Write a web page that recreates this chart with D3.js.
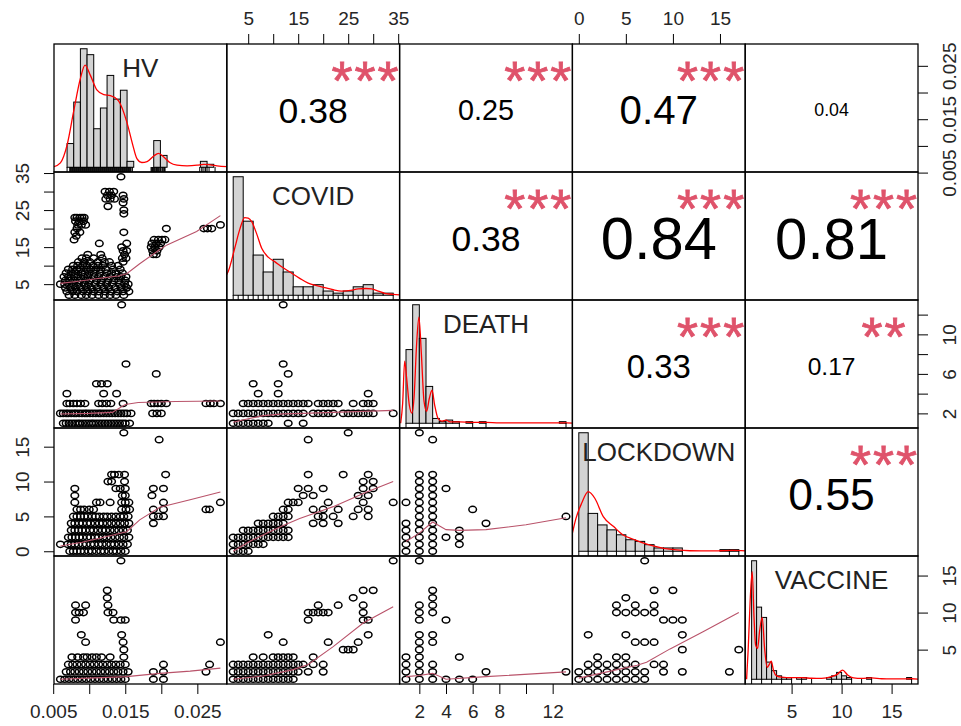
<!DOCTYPE html>
<html>
<head>
<meta charset="utf-8">
<script src="https://cdn.jsdelivr.net/npm/d3@7/dist/d3.min.js"></script>
<style>
  body { margin: 0; background: #fff; }
  svg { font-family: "Liberation Sans", Arial, sans-serif; }
</style>
</head>
<body>
<svg id="chart"></svg>
<script>
// ---- variables ----
const varNames = ["HV", "COVID", "DEATH", "LOCKDOWN", "VACCINE"];
const varRanges = [[0.0060, 0.0282], [2, 34], [1, 13], [0, 17], [1, 17]];

// ---- axis ticks ----
const hvTicks = [0.005, 0.010, 0.015, 0.020, 0.025];
const hvTickLabels = ["0.005", "", "0.015", "", "0.025"];
const covidTicks = [5, 10, 15, 20, 25, 30, 35];
const covidTickLabels = ["5", "", "15", "", "25", "", "35"];
const deathTicks = [2, 4, 6, 8, 10, 12];
const deathTickLabelsX = ["2", "4", "6", "8", "", "12"];
const deathTickLabelsY = ["2", "", "6", "", "10", ""];
const lockdownTicks = [0, 5, 10, 15];
const lockdownTickLabels = ["0", "5", "10", "15"];
const vaccineTicks = [5, 10, 15];
const vaccineTickLabels = ["5", "10", "15"];

// ---- correlations (upper panels) ----
const corrPairs = [[0, 1], [0, 2], [0, 3], [0, 4], [1, 2], [1, 3], [1, 4], [2, 3], [2, 4], [3, 4]];
const corrR = [0.38, 0.25, 0.47, 0.04, 0.38, 0.84, 0.81, 0.33, 0.17, 0.55];
const corrStars = ["***", "***", "***", "", "***", "***", "***", "***", "**", "***"];

// ---- histograms (diagonal), counts per bin ----
const hvBreaks = [0.005, 0.006, 0.007, 0.008, 0.009, 0.010, 0.011, 0.012, 0.013, 0.014, 0.015, 0.016,
  0.017, 0.018, 0.019, 0.020, 0.021, 0.022, 0.023, 0.024, 0.025, 0.026, 0.027, 0.028, 0.029];
const hvCounts = [0, 8, 22, 40, 38, 13, 20, 31, 23, 26, 2, 0, 0, 0, 9, 4, 0, 0, 0, 0, 0, 2, 1, 0];
const covidBreaks = [2, 4, 6, 8, 10, 12, 14, 16, 18, 20, 22, 24, 26, 28, 30, 32, 34];
const covidCounts = [56, 35, 19, 11, 17, 11, 4, 4, 5, 2, 1, 2, 4, 5, 1, 1];
const deathBreaks = [1, 1.5, 2, 2.5, 3, 3.5, 4, 4.5, 5, 5.5, 6, 6.5, 7, 7.5, 8, 8.5, 9, 9.5, 10,
  10.5, 11, 11.5, 12, 12.5, 13];
const deathCounts = [46, 74, 53, 23, 3, 1, 2, 1, 0, 1, 0, 1, 0, 0, 0, 0, 0, 0, 0, 0, 0, 0, 0, 1];
const lockdownBreaks = [0, 1, 2, 3, 4, 5, 6, 7, 8, 9, 10, 11, 12, 13, 14, 15, 16, 17];
const lockdownCounts = [72, 23, 16, 13, 10, 7, 6, 4, 2, 2, 2, 0, 0, 0, 0, 1, 1];
const vaccineBreaks = [1, 1.5, 2, 2.5, 3, 3.5, 4, 4.5, 5, 5.5, 6, 6.5, 7, 7.5, 8, 8.5, 9, 9.5, 10,
  10.5, 11, 11.5, 12, 12.5, 13, 13.5, 14, 14.5, 15, 15.5, 16, 16.5, 17];
const vaccineCounts = [69, 42, 36, 10, 5, 2, 1, 1, 0, 1, 1, 0, 0, 0, 0, 1, 2, 4, 2, 1, 0, 0, 0, 1,
  0, 0, 0, 0, 0, 0, 0, 1];

// density curves (in count-per-bin units)
const hvDensity = [[0.0040, 0.2], [0.0050, 1.5], [0.0060, 7.5], [0.0070, 19], [0.0080, 30], [0.0087, 34.5],
  [0.0095, 31], [0.0105, 26], [0.0115, 24.5], [0.0125, 24.2], [0.0137, 22.5], [0.0150, 15], [0.0158, 8],
  [0.0165, 2.8], [0.0172, 1.6], [0.0180, 1.9], [0.0190, 3.8], [0.0197, 4.7], [0.0205, 3.5], [0.0214, 1.6],
  [0.0225, 0.7], [0.0240, 0.5], [0.0255, 0.7], [0.0265, 1.0], [0.0275, 0.8], [0.0285, 0.5], [0.0300, 0.2]];
const covidDensity = [[0.5, 9], [1.0, 11.2], [2.3, 22.2], [3.3, 31], [4.3, 36.7], [5.0, 36.5], [5.7, 34.8],
  [6.7, 29], [7.7, 22.2], [9.0, 18], [10.3, 15.9], [12, 13], [13.7, 10.4], [15.3, 8], [17, 5.7], [18.7, 4.5],
  [20.3, 3.6], [22, 2.6], [23.7, 2.0], [25.5, 2.3], [27, 3.0], [28.5, 3.2], [29.7, 3.0], [31, 2],
  [32.3, 0.9], [34, 0.4], [35.3, 0.2]];
const deathDensity = [[0.6, 0], [0.75, 12.5], [0.9, 38.8], [1.05, 28.1], [1.25, 11.3], [1.45, 6.3], [1.6, 15.6],
  [1.8, 50], [1.97, 66.3], [2.15, 43.8], [2.35, 13.8], [2.55, 7.5], [2.75, 15.6], [2.95, 20.6], [3.15, 11.3],
  [3.4, 3.1], [3.7, 1.3], [4.0, 1.9], [4.3, 0.9], [5, 0.9], [6, 0.6], [7, 0.6], [8, 0.2], [12, 0.2],
  [13, 0.3], [13.5, 0.1]];
const lockdownDensity = [[-0.7, 10.5], [-0.3, 20], [0.3, 29.1], [1.0, 36.2], [1.7, 32.2], [2.6, 21], [3.7, 15],
  [4.7, 9.9], [5.8, 7.3], [6.9, 4.9], [7.9, 3.2], [9.0, 1.8], [10.4, 0.8], [11.8, 0.3], [13, 0.2], [15, 0.3],
  [16.3, 0.5], [17.7, 0.2]];
const vaccineDensity = [[0.5, 0], [0.66, 17.5], [0.85, 45], [1.06, 62.6], [1.25, 35], [1.4, 20], [1.6, 18],
  [1.8, 28], [2.06, 36], [2.3, 18], [2.55, 7], [2.8, 9], [2.96, 10.5], [3.2, 5], [3.5, 2], [4, 1.2], [5, 0.9],
  [6, 0.9], [7, 0.6], [8, 0.5], [9, 1.5], [9.6, 3], [10.1, 5.3], [10.6, 2.5], [11.2, 0.8], [12, 0.5],
  [13, 0.8], [14, 0.3], [15, 0.2], [16, 0.2], [17, 0.3], [17.7, 0.1]];

// ---- scatter panels (lower), grouped as [y value, [x values]] ----
const hvCovid = [
  [34, [0.0144]], [30, [0.0122, 0.0128, 0.0134]], [29, [0.0125, 0.0131, 0.0147]],
  [28, [0.0123, 0.0129, 0.0135, 0.0148]], [27, [0.0147]], [26, [0.0126]], [25, [0.0148]], [24, [0.0148]],
  [23, [0.0080, 0.0083, 0.0087, 0.0090, 0.0093]], [22, [0.0081, 0.0086, 0.0092]],
  [21, [0.0084, 0.0089, 0.0095, 0.0282]], [20, [0.0083, 0.0207, 0.0259, 0.0264, 0.0270]],
  [19, [0.0080, 0.0087, 0.0148]], [18, [0.0082]], [17, [0.0079, 0.0190, 0.0196, 0.0201, 0.0205]],
  [16, [0.0114, 0.0152, 0.0187, 0.0193, 0.0199]], [15, [0.0145, 0.0186, 0.0191, 0.0197]],
  [14, [0.0147, 0.0152, 0.0188, 0.0194]], [13, [0.0098, 0.0116, 0.0149, 0.0189, 0.0193]],
  [12, [0.0090, 0.0096, 0.0106, 0.0118, 0.0146, 0.0151]],
  [11, [0.0085, 0.0093, 0.0101, 0.0112, 0.0121, 0.0128, 0.0147]],
  [10, [0.0078, 0.0084, 0.0091, 0.0097, 0.0105, 0.0112, 0.0119, 0.0131, 0.0140]],
  [9, [0.0071, 0.0077, 0.0083, 0.0088, 0.0096, 0.0102, 0.0109, 0.0116, 0.0123, 0.0133, 0.0143]],
  [8, [0.0068, 0.0075, 0.0081, 0.0089, 0.0094, 0.0100, 0.0107, 0.0115, 0.0124, 0.0131, 0.0137, 0.0146]],
  [7, [0.0065, 0.0071, 0.0079, 0.0084, 0.0092, 0.0098, 0.0106, 0.0113, 0.0121, 0.0129, 0.0138, 0.0144, 0.0151]],
  [6, [0.0067, 0.0073, 0.0080, 0.0087, 0.0095, 0.0101, 0.0110, 0.0117, 0.0126, 0.0134, 0.0141, 0.0150]],
  [5, [0.0060, 0.0066, 0.0072, 0.0078, 0.0085, 0.0093, 0.0099, 0.0108, 0.0116, 0.0124, 0.0132, 0.0142, 0.0149, 0.0154]],
  [4, [0.0067, 0.0074, 0.0081, 0.0088, 0.0096, 0.0103, 0.0111, 0.0120, 0.0127, 0.0136, 0.0144, 0.0152]],
  [3, [0.0069, 0.0077, 0.0083, 0.0091, 0.0098, 0.0106, 0.0113, 0.0122, 0.0130, 0.0139, 0.0147, 0.0155]],
  [2, [0.0072, 0.0080, 0.0089, 0.0096, 0.0104, 0.0113, 0.0121, 0.0129, 0.0137, 0.0148]]
];
const hvDeath = [
  [13, [0.0145]], [7, [0.0151]], [6, [0.0193]], [5, [0.0110, 0.0117, 0.0125]], [4, [0.0069, 0.0120, 0.0138]],
  [3, [0.0069, 0.0073, 0.0078, 0.0083, 0.0088, 0.0094, 0.0113, 0.0118, 0.0124, 0.0130, 0.0147, 0.0186, 0.0190,
    0.0195, 0.0200, 0.0207, 0.0262, 0.0268, 0.0273, 0.0282]],
  [2, [0.0060, 0.0064, 0.0068, 0.0071, 0.0075, 0.0079, 0.0082, 0.0086, 0.0090, 0.0094, 0.0097, 0.0101, 0.0105,
    0.0109, 0.0113, 0.0116, 0.0120, 0.0124, 0.0128, 0.0132, 0.0136, 0.0140, 0.0144, 0.0148, 0.0152, 0.0158,
    0.0188, 0.0194, 0.0200]],
  [1, [0.0064, 0.0068, 0.0072, 0.0076, 0.0080, 0.0084, 0.0087, 0.0091, 0.0095, 0.0099, 0.0103, 0.0106, 0.0110,
    0.0114, 0.0118, 0.0122, 0.0126, 0.0130, 0.0134, 0.0138, 0.0142, 0.0146, 0.0150, 0.0156]]
];
const covidDeath = [
  [13, [12]], [7, [12]], [6, [13]], [5, [6, 11]], [4, [7, 11, 29]],
  [3, [4, 5, 6, 7, 8, 9, 10, 11, 12, 13, 14, 15, 16, 17, 19, 20, 21, 22, 23, 26, 28, 29, 30]],
  [2, [2, 3, 4, 5, 6, 7, 8, 9, 10, 11, 12, 13, 14, 15, 16, 18, 19, 20, 21, 22, 24, 25, 26, 27, 28, 29, 30, 34]],
  [1, [2, 3, 4, 5, 6, 7, 8, 9, 13, 16]]
];
const hvLockdown = [
  [17, [0.0148]], [16, [0.0197]], [11, [0.0131, 0.0135, 0.0141, 0.0149, 0.0206]], [10, [0.0126, 0.0131, 0.0149]],
  [9, [0.0080, 0.0137, 0.0143, 0.0150, 0.0189, 0.0203]], [8, [0.0080, 0.0146, 0.0150, 0.0187]],
  [7, [0.0080, 0.0110, 0.0115, 0.0129, 0.0145, 0.0150, 0.0155, 0.0203, 0.0282]],
  [6, [0.0083, 0.0088, 0.0093, 0.0100, 0.0106, 0.0145, 0.0151, 0.0156, 0.0189, 0.0203, 0.0262, 0.0267]],
  [5, [0.0078, 0.0083, 0.0088, 0.0093, 0.0098, 0.0104, 0.0109, 0.0114, 0.0120, 0.0125, 0.0131, 0.0137, 0.0143,
    0.0148, 0.0154, 0.0189, 0.0196, 0.0203]],
  [4, [0.0075, 0.0080, 0.0086, 0.0091, 0.0097, 0.0102, 0.0108, 0.0114, 0.0119, 0.0125, 0.0131, 0.0137, 0.0143,
    0.0149, 0.0155, 0.0189]],
  [3, [0.0075, 0.0080, 0.0085, 0.0090, 0.0095, 0.0101, 0.0106, 0.0112, 0.0118, 0.0123, 0.0129, 0.0135, 0.0141,
    0.0147, 0.0153]],
  [2, [0.0071, 0.0076, 0.0081, 0.0086, 0.0091, 0.0097, 0.0102, 0.0108, 0.0113, 0.0119, 0.0124, 0.0130, 0.0136,
    0.0142, 0.0148, 0.0155]],
  [1, [0.0060, 0.0070, 0.0075, 0.0080, 0.0085, 0.0091, 0.0096, 0.0102, 0.0107, 0.0113, 0.0118, 0.0124, 0.0130,
    0.0135, 0.0141, 0.0147, 0.0153]],
  [0, [0.0073, 0.0078, 0.0083, 0.0088, 0.0093, 0.0099, 0.0104, 0.0110, 0.0116, 0.0121, 0.0127, 0.0133, 0.0138,
    0.0144, 0.0150]]
];
const covidLockdown = [
  [17, [25]], [16, [17]], [11, [17, 24, 29]], [10, [28, 30]], [9, [15, 17, 20, 28, 30]], [8, [16, 18, 27, 29]],
  [7, [13, 14, 15, 21, 28, 34]], [6, [12, 13, 18, 20, 23, 27, 29]], [5, [10, 11, 12, 13, 19, 20, 22, 26, 29]],
  [4, [7, 8, 9, 10, 11, 12, 18, 20, 23]], [3, [4, 5, 6, 7, 8, 9, 10, 11, 12, 13]],
  [2, [2, 3, 4, 5, 6, 7, 8, 9, 10, 11, 12, 13]], [1, [2, 3, 4, 5, 6, 7, 8]], [0, [2, 3, 4, 5]]
];
const deathLockdown = [
  [17, [2]], [16, [3]], [11, [2, 3]], [10, [2, 3]], [9, [2, 3, 4]], [8, [2, 3]], [7, [1, 2, 3]], [6, [2, 3, 6]],
  [5, [2, 3, 13]], [4, [1, 2, 3, 7]], [3, [1, 2, 3, 5]], [2, [1, 2, 3, 4, 5]], [1, [1, 2, 3, 5]], [0, [1, 2, 3]]
];
const hvVaccine = [
  [17, [0.0144]], [13, [0.0125]], [12, [0.0125]], [11, [0.0081, 0.0095, 0.0126]],
  [10, [0.0081, 0.0086, 0.0092, 0.0126, 0.0133]], [9, [0.0081, 0.0134, 0.0144, 0.0150]], [7, [0.0089, 0.0145]],
  [6, [0.0095, 0.0147, 0.0282]], [5, [0.0148]],
  [4, [0.0076, 0.0084, 0.0092, 0.0097, 0.0104, 0.0110, 0.0117, 0.0129, 0.0148]],
  [3, [0.0071, 0.0077, 0.0083, 0.0089, 0.0095, 0.0101, 0.0107, 0.0113, 0.0119, 0.0125, 0.0131, 0.0137, 0.0143,
    0.0150, 0.0203, 0.0267]],
  [2, [0.0068, 0.0074, 0.0080, 0.0086, 0.0092, 0.0098, 0.0104, 0.0110, 0.0116, 0.0122, 0.0128, 0.0134, 0.0140,
    0.0147, 0.0154, 0.0189, 0.0203, 0.0262]],
  [1, [0.0060, 0.0066, 0.0072, 0.0078, 0.0084, 0.0090, 0.0096, 0.0102, 0.0108, 0.0114, 0.0120, 0.0126, 0.0132,
    0.0138, 0.0144, 0.0150, 0.0189, 0.0203]]
];
const covidVaccine = [
  [17, [34]], [13, [28, 30]], [12, [26]], [11, [19, 23, 28]], [10, [17, 18, 19, 20, 21, 28]], [9, [17, 28, 29]],
  [7, [9, 29]], [6, [12, 21, 27]], [5, [24, 25, 26]], [4, [6, 8, 10, 11, 12, 13, 14, 18]],
  [3, [2, 3, 4, 5, 6, 7, 8, 9, 10, 11, 12, 13, 14, 15, 16, 18, 20]],
  [2, [2, 3, 4, 5, 6, 7, 8, 9, 10, 11, 12, 13, 14, 15, 17, 20]],
  [1, [2, 3, 4, 5, 6, 7, 8, 9, 10, 11, 12, 13, 14]]
];
const deathVaccine = [
  [17, [2]], [13, [3]], [12, [3]], [11, [2, 3]], [10, [2, 3]], [9, [2, 4]], [7, [2, 3]], [6, [2, 3]], [5, [2]],
  [4, [1, 2, 5]], [3, [1, 2, 3]], [2, [1, 2, 3, 7, 13]], [1, [1, 2, 3, 4, 5, 6]]
];
const lockdownVaccine = [
  [17, [7]], [13, [8, 10]], [12, [5]], [11, [4, 6, 8]], [10, [4, 5, 6, 7, 8]], [9, [9, 10, 11]], [7, [1, 5, 11]],
  [6, [6, 7, 8]], [5, [11, 17]], [4, [2, 4, 5]], [3, [1, 2, 3, 4, 5, 6, 8, 9]],
  [2, [0, 1, 2, 3, 4, 5, 6, 7, 9, 11, 16]], [1, [0, 1, 2, 3, 4, 5, 6, 7]]
];

// lowess smoothers as [x, y]
const hvCovidSmooth = [[0.0060, 5.2], [0.0085, 5.8], [0.0115, 6.6], [0.0140, 7.2], [0.0152, 7.8], [0.0170, 10.5],
  [0.0194, 13.8], [0.0208, 15.6], [0.0249, 19.2], [0.0282, 23.5]];
const hvDeathSmooth = [[0.0060, 1.94], [0.0100, 2.0], [0.0132, 2.1], [0.0150, 2.9], [0.0168, 3.1], [0.0220, 3.2],
  [0.0282, 3.25]];
const covidDeathSmooth = [[2, 1.1], [5, 1.45], [8, 1.77], [12, 1.95], [16, 2.0], [22, 2.1], [28, 2.2], [34, 2.3]];
const hvLockdownSmooth = [[0.0060, 0.75], [0.0090, 1.3], [0.0120, 2.0], [0.0152, 2.8], [0.0170, 4.5],
  [0.0198, 6.3], [0.0240, 7.4], [0.0282, 8.5]];
const covidLockdownSmooth = [[2, 0.0], [5, 1.3], [8.7, 2.6], [12, 3.7], [15.3, 4.7], [22, 6.4], [28.7, 8.5], [34, 10.0]];
const deathLockdownSmooth = [[1, 1.4], [2, 2.6], [3, 4.2], [4, 3.1], [5, 3.0], [7, 3.1], [10, 3.8], [13, 4.8]];
const hvVaccineSmooth = [[0.0060, 1.0], [0.0100, 1.15], [0.0152, 1.35], [0.0198, 1.8], [0.0240, 2.1], [0.0282, 2.5]];
const covidVaccineSmooth = [[2, 1.0], [8, 1.45], [14, 2.3], [17, 3.0], [22, 5.4], [28, 8.6], [34, 10.8]];
const deathVaccineSmooth = [[1, 1.35], [2, 1.5], [3, 1.8], [4, 1.0], [7, 1.35], [13, 2.0]];
const lockdownVaccineSmooth = [[0, 1.15], [3, 2.0], [6.2, 2.9], [7.2, 3.3], [9.7, 5.1], [13.2, 7.4], [17, 10.0]];

// ---- layout ----
const width = 961, height = 726;
const gridLeft = 54, gridTop = 44, cellW = 172.8, cellH = 128;
const n = varNames.length;

const svg = d3.select("#chart").attr("width", width).attr("height", height);
svg.append("rect").attr("width", width).attr("height", height).attr("fill", "#fff");

// R's default 4% axis extension
const padDomain = ([a, b]) => [a - 0.04 * (b - a), b + 0.04 * (b - a)];

const colScale = varNames.map((_, j) =>
  d3.scaleLinear().domain(padDomain(varRanges[j])).range([gridLeft + j * cellW, gridLeft + (j + 1) * cellW]));
const rowScale = varNames.map((_, i) =>
  d3.scaleLinear().domain(padDomain(varRanges[i])).range([gridTop + (i + 1) * cellH, gridTop + i * cellH]));

// clip paths per cell
const defs = svg.append("defs");
for (let i = 0; i < n; i++) {
  for (let j = 0; j < n; j++) {
    defs.append("clipPath").attr("id", `clip-${i}-${j}`)
      .append("rect")
      .attr("x", gridLeft + j * cellW).attr("y", gridTop + i * cellH)
      .attr("width", cellW).attr("height", cellH);
  }
}

const smoothColor = "#B9536A";
const starColor = "#DF536B";

// ---- lower panels: scatter + smoother ----
const lowerPanels = [
  { row: 1, col: 0, points: hvCovid, smooth: hvCovidSmooth },
  { row: 2, col: 0, points: hvDeath, smooth: hvDeathSmooth },
  { row: 2, col: 1, points: covidDeath, smooth: covidDeathSmooth },
  { row: 3, col: 0, points: hvLockdown, smooth: hvLockdownSmooth },
  { row: 3, col: 1, points: covidLockdown, smooth: covidLockdownSmooth },
  { row: 3, col: 2, points: deathLockdown, smooth: deathLockdownSmooth },
  { row: 4, col: 0, points: hvVaccine, smooth: hvVaccineSmooth },
  { row: 4, col: 1, points: covidVaccine, smooth: covidVaccineSmooth },
  { row: 4, col: 2, points: deathVaccine, smooth: deathVaccineSmooth },
  { row: 4, col: 3, points: lockdownVaccine, smooth: lockdownVaccineSmooth }
];

lowerPanels.forEach(p => {
  const x = colScale[p.col], y = rowScale[p.row];
  const pts = p.points.flatMap(([yv, xs]) => xs.map(xv => [xv, yv]));
  const g = svg.append("g").attr("clip-path", `url(#clip-${p.row}-${p.col})`);
  g.selectAll("ellipse")
    .data(pts)
    .join("ellipse")
    .attr("cx", d => x(d[0]))
    .attr("cy", d => y(d[1]))
    .attr("rx", 3.8)
    .attr("ry", 3.1)
    .attr("fill", "none")
    .attr("stroke", "#000")
    .attr("stroke-width", 1.5);
  g.append("path")
    .datum(p.smooth)
    .attr("fill", "none")
    .attr("stroke", smoothColor)
    .attr("stroke-width", 1.1)
    .attr("d", d3.line().x(d => x(d[0])).y(d => y(d[1])));
});

// ---- diagonal panels: histogram, density, rug, label ----
const diagPanels = [
  { breaks: hvBreaks, counts: hvCounts, density: hvDensity },
  { breaks: covidBreaks, counts: covidCounts, density: covidDensity },
  { breaks: deathBreaks, counts: deathCounts, density: deathDensity },
  { breaks: lockdownBreaks, counts: lockdownCounts, density: lockdownDensity },
  { breaks: vaccineBreaks, counts: vaccineCounts, density: vaccineDensity }
];

// every value a variable takes in the scatter panels (for the rug)
const rugValues = varNames.map((_, k) => {
  const vals = new Set();
  lowerPanels.forEach(p => {
    p.points.forEach(([yv, xs]) => {
      if (p.row === k) vals.add(yv);
      if (p.col === k) xs.forEach(v => vals.add(v));
    });
  });
  return Array.from(vals);
});

diagPanels.forEach((d, k) => {
  const x0 = gridLeft + k * cellW, y0 = gridTop + k * cellH;
  const hx = d3.scaleLinear()
    .domain(padDomain([d.breaks[0], d.breaks[d.breaks.length - 1]]))
    .range([x0, x0 + cellW]);
  const maxC = d3.max(d.counts);
  const hy = d3.scaleLinear().domain([-0.04 * maxC, 1.04 * maxC]).range([y0 + cellH, y0]);
  const g = svg.append("g").attr("clip-path", `url(#clip-${k}-${k})`);

  g.selectAll("rect.bar")
    .data(d.counts)
    .join("rect")
    .attr("class", "bar")
    .attr("x", (c, i) => hx(d.breaks[i]))
    .attr("width", (c, i) => hx(d.breaks[i + 1]) - hx(d.breaks[i]))
    .attr("y", c => hy(c))
    .attr("height", c => hy(0) - hy(c))
    .attr("fill", "#D3D3D3")
    .attr("stroke", "#000")
    .attr("stroke-width", 1);

  g.append("path")
    .datum(d.density)
    .attr("fill", "none")
    .attr("stroke", "#F00")
    .attr("stroke-width", 1.3)
    .attr("d", d3.line().x(p => hx(p[0])).y(p => hy(p[1])).curve(d3.curveMonotoneX));

  g.selectAll("line.rug")
    .data(rugValues[k])
    .join("line")
    .attr("class", "rug")
    .attr("x1", v => hx(v)).attr("x2", v => hx(v))
    .attr("y1", y0 + cellH).attr("y2", y0 + cellH - 5)
    .attr("stroke", "#000")
    .attr("stroke-width", 1);

  svg.append("text")
    .attr("x", x0 + cellW / 2)
    .attr("y", y0 + 23.5 + 0.358 * 26)
    .attr("text-anchor", "middle")
    .attr("font-size", 26)
    .attr("fill", "#222")
    .text(varNames[k]);
});

// ---- upper panels: correlation + significance stars ----
const baseFont = 68, starFont = 54;
corrPairs.forEach(([i, j], idx) => {
  const x0 = gridLeft + j * cellW, y0 = gridTop + i * cellH;
  const r = corrR[idx];
  const fs = baseFont * (Math.abs(r) + 0.3) / 1.3;
  const g = svg.append("g").attr("clip-path", `url(#clip-${i}-${j})`);
  g.append("text")
    .attr("x", x0 + cellW / 2)
    .attr("y", y0 + cellH / 2 + 2 + 0.358 * fs)
    .attr("text-anchor", "middle")
    .attr("font-size", fs)
    .attr("fill", "#000")
    .text(r.toFixed(2));
  if (corrStars[idx]) {
    g.append("text")
      .attr("x", x0 + 0.8 * cellW + 1)
      .attr("y", y0 + 29 + 0.49 * starFont)
      .attr("text-anchor", "middle")
      .attr("font-size", starFont)
      .attr("letter-spacing", 2)
      .attr("fill", starColor)
      .attr("stroke", starColor)
      .attr("stroke-width", 0.8)
      .text(corrStars[idx]);
  }
});

// ---- panel frames ----
for (let i = 0; i < n; i++) {
  for (let j = 0; j < n; j++) {
    svg.append("rect")
      .attr("x", gridLeft + j * cellW).attr("y", gridTop + i * cellH)
      .attr("width", cellW).attr("height", cellH)
      .attr("fill", "none").attr("stroke", "#000").attr("stroke-width", 1.3);
  }
}

// ---- outer axes ----
const axisTicks = [hvTicks, covidTicks, deathTicks, lockdownTicks, vaccineTicks];
const xTickLabels = [hvTickLabels, covidTickLabels, deathTickLabelsX, lockdownTickLabels, vaccineTickLabels];
const yTickLabels = [hvTickLabels, covidTickLabels, deathTickLabelsY, lockdownTickLabels, vaccineTickLabels];

function styleAxis(g) {
  g.select(".domain").remove();
  g.attr("font-size", 19).attr("font-family", "Liberation Sans, Arial, sans-serif");
  g.selectAll(".tick line").attr("stroke", "#000").attr("stroke-width", 1);
  g.selectAll(".tick text").attr("fill", "#262626");
}

varNames.forEach((_, k) => {
  const ticks = axisTicks[k];
  const xl = xTickLabels[k], yl = yTickLabels[k];
  // columns: top for odd, bottom for even
  if (k % 2 === 1) {
    svg.append("g").attr("transform", `translate(0,${gridTop})`)
      .call(d3.axisTop(colScale[k]).tickValues(ticks).tickSize(10).tickPadding(9)
        .tickFormat((v, i) => xl[i]))
      .call(styleAxis);
  } else {
    svg.append("g").attr("transform", `translate(0,${gridTop + n * cellH})`)
      .call(d3.axisBottom(colScale[k]).tickValues(ticks).tickSize(10).tickPadding(11)
        .tickFormat((v, i) => xl[i]))
      .call(styleAxis);
  }
  // rows: left for odd, right for even (labels parallel to the axis)
  if (k % 2 === 1) {
    svg.append("g").attr("transform", `translate(${gridLeft},0)`)
      .call(d3.axisLeft(rowScale[k]).tickValues(ticks).tickSize(10).tickFormat((v, i) => yl[i]))
      .call(styleAxis)
      .selectAll(".tick text")
      .attr("x", 0).attr("y", 0).attr("dy", "0.36em")
      .attr("text-anchor", "middle")
      .attr("transform", "translate(-32,0) rotate(-90)");
  } else {
    svg.append("g").attr("transform", `translate(${gridLeft + n * cellW},0)`)
      .call(d3.axisRight(rowScale[k]).tickValues(ticks).tickSize(10).tickFormat((v, i) => yl[i]))
      .call(styleAxis)
      .selectAll(".tick text")
      .attr("x", 0).attr("y", 0).attr("dy", "0.36em")
      .attr("text-anchor", "middle")
      .attr("transform", "translate(31,0) rotate(-90)");
  }
});
</script>
</body>
</html>
